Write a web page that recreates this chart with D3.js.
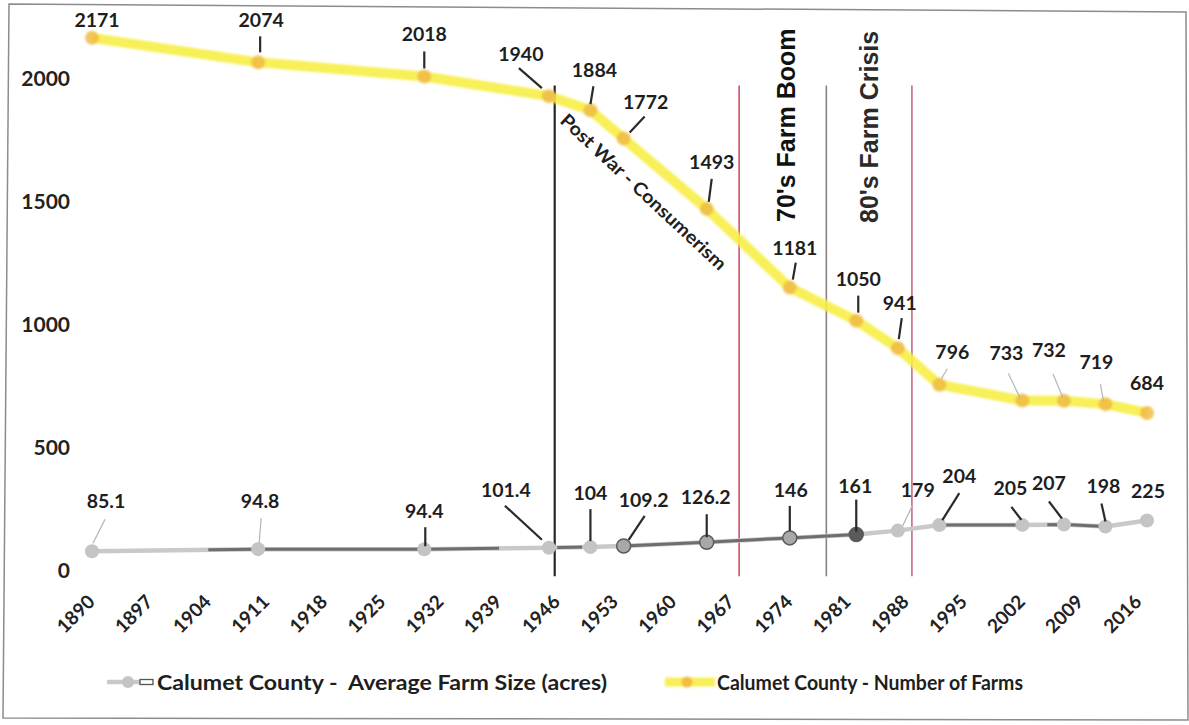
<!DOCTYPE html>
<html>
<head>
<meta charset="utf-8">
<script src="https://cdn.jsdelivr.net/npm/d3@7"></script>
<style>
  html, body { margin: 0; padding: 0; background: #fff; }
  svg { display: block; }
  text { font-family: Lato, "Open Sans", sans-serif; }
</style>
</head>
<body>
<svg id="chart" width="1189" height="725"></svg>
<script>
// ---------------- data ----------------
const years      = [1890, 1910, 1930, 1945, 1950, 1954, 1964, 1974, 1982, 1987, 1992, 2002, 2007, 2012, 2017];
const farms      = [2171, 2074, 2018, 1940, 1884, 1772, 1493, 1181, 1050, 941, 796, 733, 732, 719, 684];
const farmSize   = [85.1, 94.8, 94.4, 101.4, 104, 109.2, 126.2, 146, 161, 179, 204, 205, 207, 198, 225];
const yTickVals  = [0, 500, 1000, 1500, 2000];
const xTickVals  = [1890, 1897, 1904, 1911, 1918, 1925, 1932, 1939, 1946, 1953, 1960, 1967, 1974, 1981, 1988, 1995, 2002, 2009, 2016];
const eventYears = [1945.7, 1967.9, 1978.4, 1988.7];
const eventRange = [-25, 1970];
const seriesNames = ["Calumet County -  Average Farm Size (acres)", "Calumet County - Number of Farms"];
const annotations = ["Post War - Consumerism", "70's Farm Boom", "80's Farm Crisis"];

// ---------------- layout / style config ----------------
// label offsets (label centre relative to point) and leader lines (relative start -> end)
const farmsLabel = [[5,-18],[3,-42],[0,-42],[-28,-42],[4,-40],[22,-37],[5,-47],[5,-40],[2,-42],[2,-45],[13,-33],[-16,-48],[-15,-51],[-9,-42],[0,-30]];
const farmsLeader = [null,[2,-26,2,-10],[0,-25,0,-8],[-30,-28,-7,-8],[3,-24,0,-6],[21,-22,6,-6],[5,-30,2,-7],[6,-25,3,-8],[2,-25,2,-8],[4,-30,1,-9],[8,-16,2,-6],[-14,-27,-2,-2],[-11,-27,-1,-3],[-5,-20,-2,-3],null];
const farmsLeaderFaint = [10,11,12,13];
const sizeLabel = [[14,-50],[2,-48],[0,-38],[-43,-58],[0,-54],[20,-46],[-1,-45],[1,-48],[-1,-49],[20,-41],[20,-49],[-12,-37],[-15,-41],[-2,-40],[1,-30]];
const sizeLeader = [[13,-32,1,-8],[3,-31,1,-6],[1,-22,1,-3],[-44,-42,-7,-8],[0,-38,0,-6],[21,-30,5,-6],[0,-28,0,-5],[0,-32,0,-7],[0,-35,0,-3],[15,-26,5,-5],[20,-32,3,-5],[-11,-18,-1,-5],[-15,-23,-2,-6],[-4,-23,0,-5],null];
const sizeLeaderFaint = [0,1,9];
const sizeDarkMarkers = [5,6,7,8];
const darkOverlayRanges = [[1904,1939],[1946,1949],[1954,1982],[1992,2002],[2005,2012]];
const eventColors = ["#262626", "#d0506a", "#8a8088", "#c86a80"];

const svg = d3.select("#chart");

// scales
const x = d3.scaleLinear().domain([1890, 2017]).range([92, 1147]);
const yAxis = d3.scaleLinear().domain([0, 2000]).range([570, 78]);
const yFarms = d3.scaleLinear().domain([0, 2000]).range([585.5, 81]);
const ySize = d3.scaleLinear().domain([0, 200]).range([570, 526]);

const defs = svg.append("defs");
defs.append("filter").attr("id", "soft").attr("x", "-5%").attr("y", "-5%").attr("width", "110%").attr("height", "110%")
  .append("feGaussianBlur").attr("stdDeviation", 0.9);
const clip = defs.append("clipPath").attr("id", "darkclip");
clip.selectAll("rect").data(darkOverlayRanges).join("rect")
  .attr("x", d => x(d[0])).attr("width", d => x(d[1]) - x(d[0]))
  .attr("y", 440).attr("height", 140);

// border (slightly skewed like the scan)
svg.append("path")
  .attr("d", "M9,4 L1186,12 L1188,720 L3,718 Z")
  .attr("fill", "none").attr("stroke", "#8c8c8c").attr("stroke-width", 1.5);

// y axis tick labels
svg.append("g").selectAll("text").data(yTickVals).join("text")
  .attr("x", 70).attr("y", d => yAxis(d)).attr("dy", "0.36em")
  .attr("text-anchor", "end").attr("font-size", 21).attr("font-weight", 700).attr("fill", "#222")
  .text(d => d);

// x axis tick labels
svg.append("g").selectAll("text").data(xTickVals).join("text")
  .attr("transform", d => `translate(${x(d) + 4},${603}) rotate(-45)`)
  .attr("text-anchor", "end").attr("font-size", 19).attr("font-weight", 700).attr("fill", "#222")
  .text(d => d);

// event lines
svg.append("g").selectAll("line").data(eventYears).join("line")
  .attr("x1", d => x(d)).attr("x2", d => x(d))
  .attr("y1", yAxis(eventRange[1])).attr("y2", yAxis(eventRange[0]))
  .attr("stroke", (d, i) => eventColors[i])
  .attr("stroke-width", (d, i) => i === 0 ? 2.2 : 1.6);

// ---- average farm size series ----
const sizeData = years.map((yr, i) => ({ yr, v: farmSize[i], i }));
const sizeLine = d3.line().x(d => x(d.yr)).y(d => ySize(d.v));
svg.append("path").datum(sizeData).attr("d", sizeLine)
  .attr("fill", "none").attr("stroke", "#c9c9c9").attr("stroke-width", 4.5);
svg.append("path").datum(sizeData).attr("d", sizeLine)
  .attr("clip-path", "url(#darkclip)")
  .attr("fill", "none").attr("stroke", "#5e5e5e").attr("stroke-width", 3).attr("opacity", 0.85);
svg.append("g").selectAll("circle").data(sizeData).join("circle")
  .attr("cx", d => x(d.yr)).attr("cy", d => ySize(d.v)).attr("r", 7)
  .attr("fill", d => d.i === 8 ? "#5a5a5a" : (sizeDarkMarkers.includes(d.i) ? "#a8a8a8" : "#c4c4c4"))
  .attr("stroke", d => sizeDarkMarkers.includes(d.i) ? "#5a5a5a" : "none")
  .attr("stroke-width", 1.5);

// leaders + labels for farm size
svg.append("g").selectAll("line").data(sizeData.filter(d => sizeLeader[d.i])).join("line")
  .attr("x1", d => x(d.yr) + sizeLeader[d.i][0]).attr("y1", d => ySize(d.v) + sizeLeader[d.i][1])
  .attr("x2", d => x(d.yr) + sizeLeader[d.i][2]).attr("y2", d => ySize(d.v) + sizeLeader[d.i][3])
  .attr("stroke", d => sizeLeaderFaint.includes(d.i) ? "#b5b5b5" : "#2a2a2a")
  .attr("stroke-width", d => sizeLeaderFaint.includes(d.i) ? 1.2 : 2.2);
svg.append("g").selectAll("text").data(sizeData).join("text")
  .attr("x", d => x(d.yr) + sizeLabel[d.i][0]).attr("y", d => ySize(d.v) + sizeLabel[d.i][1])
  .attr("dy", "0.36em").attr("text-anchor", "middle")
  .attr("font-size", 19.5).attr("font-weight", 700).attr("fill", "#1e1e1e")
  .text(d => d.v);

// ---- number of farms series ----
const farmData = years.map((yr, i) => ({ yr, v: farms[i], i }));
const farmLine = d3.line().x(d => x(d.yr)).y(d => yFarms(d.v));
const gF = svg.append("g").attr("filter", "url(#soft)");
gF.append("path").datum(farmData).attr("d", farmLine)
  .attr("fill", "none").attr("stroke", "#f7ee45").attr("stroke-width", 10)
  .attr("stroke-linejoin", "round").attr("opacity", 0.9);
gF.selectAll("circle").data(farmData).join("circle")
  .attr("cx", d => x(d.yr)).attr("cy", d => yFarms(d.v)).attr("r", 7)
  .attr("fill", "#f0bc45").attr("opacity", 0.85);

svg.append("g").selectAll("line").data(farmData.filter(d => farmsLeader[d.i])).join("line")
  .attr("x1", d => x(d.yr) + farmsLeader[d.i][0]).attr("y1", d => yFarms(d.v) + farmsLeader[d.i][1])
  .attr("x2", d => x(d.yr) + farmsLeader[d.i][2]).attr("y2", d => yFarms(d.v) + farmsLeader[d.i][3])
  .attr("stroke", d => farmsLeaderFaint.includes(d.i) ? "#b5b5b5" : "#2a2a2a")
  .attr("stroke-width", d => farmsLeaderFaint.includes(d.i) ? 1.2 : 2.2);
svg.append("g").selectAll("text").data(farmData).join("text")
  .attr("x", d => x(d.yr) + farmsLabel[d.i][0]).attr("y", d => yFarms(d.v) + farmsLabel[d.i][1])
  .attr("dy", "0.36em").attr("text-anchor", "middle")
  .attr("font-size", 19.5).attr("font-weight", 700).attr("fill", "#1e1e1e")
  .text(d => d.v);

// ---- annotations ----
svg.append("text")
  .attr("transform", "translate(559,122) rotate(43)")
  .attr("font-size", 18.5).attr("font-weight", 700).attr("fill", "#1e1e1e")
  .attr("textLength", 219).attr("lengthAdjust", "spacingAndGlyphs")
  .text(annotations[0]);
svg.append("text")
  .attr("transform", "translate(795,222) rotate(-90)")
  .style("font-family", "'Liberation Sans', Arial, sans-serif")
  .attr("font-size", 25).attr("font-weight", 700).attr("fill", "#111")
  .text(annotations[1]);
svg.append("text")
  .attr("transform", "translate(878,223) rotate(-90)")
  .style("font-family", "'Liberation Sans', Arial, sans-serif")
  .attr("font-size", 25).attr("font-weight", 700).attr("fill", "#2a2a2a")
  .text(annotations[2]);

// ---- legend ----
const ly = 682;
const lg = svg.append("g");
lg.append("line").attr("x1", 107).attr("x2", 142).attr("y1", ly).attr("y2", ly)
  .attr("stroke", "#c9c9c9").attr("stroke-width", 4.5);
lg.append("circle").attr("cx", 128).attr("cy", ly).attr("r", 6).attr("fill", "#c4c4c4");
lg.append("rect").attr("x", 140).attr("y", ly - 2.5).attr("width", 13).attr("height", 5)
  .attr("fill", "#fff").attr("stroke", "#555").attr("stroke-width", 1.3);
lg.append("text").attr("x", 157).attr("y", ly).attr("dy", "0.36em")
  .style("white-space", "pre")
  .attr("font-size", 21).attr("font-weight", 700).attr("fill", "#1e1e1e")
  .attr("textLength", 450).attr("lengthAdjust", "spacingAndGlyphs")
  .text(seriesNames[0]);
const lg2 = svg.append("g").attr("filter", "url(#soft)");
lg2.append("line").attr("x1", 665).attr("x2", 715).attr("y1", ly).attr("y2", ly)
  .attr("stroke", "#f7ee45").attr("stroke-width", 9).attr("opacity", 0.9);
lg2.append("circle").attr("cx", 687).attr("cy", ly).attr("r", 5.5).attr("fill", "#f0bc45");
svg.append("text").attr("x", 717).attr("y", ly).attr("dy", "0.36em")
  .attr("font-size", 21).attr("font-weight", 700).attr("fill", "#1e1e1e")
  .attr("textLength", 306).attr("lengthAdjust", "spacingAndGlyphs")
  .text(seriesNames[1]);
</script>
</body>
</html>
